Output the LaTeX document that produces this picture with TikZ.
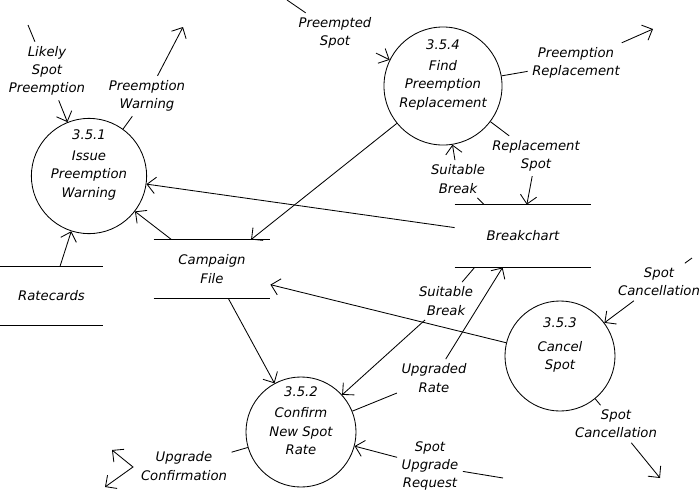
\documentclass[tikz,border=0pt]{standalone}
\usepackage{fontspec}
\setmainfont{DejaVu Sans}
\usetikzlibrary{arrows.meta}

\begin{document}
\begin{tikzpicture}[
  x=0.025cm, y=-0.025cm, font=\itshape\fontsize{9.4}{13}\selectfont,
  > = {Straight Barb[length=2.1mm,width=4.1mm]}, line width=0.6pt,
  proc/.style = {draw,circle,inner sep=0pt,minimum size=2.8cm},
  ptext/.style = {align=center,yshift=8pt},
  store/.style = {inner sep=0pt,align=center},
  flow/.style = {align=center,inner sep=3pt}
  ]
  \useasboundingbox (0,0) rectangle (700,495);
  % processes
  \node[proc,minimum size=2.88cm,label={[ptext]center:{3.5.1\\[2pt]Issue\\Preemption\\Warning}}] (@351) at (89,176) {};
  \node[proc,minimum size=2.75cm,label={[ptext]center:{3.5.2\\[2pt]Confirm\\New Spot\\Rate}}] (@352) at (301,432) {};
  \node[proc,minimum size=2.75cm,label={[ptext]center:{3.5.3\\[4pt]Cancel\\Spot}}] (@353) at (560,356) {};
  \node[proc,minimum size=2.95cm,label={[ptext]center:{3.5.4\\[2pt]Find\\Preemption\\Replacement}}] (@354) at (443,86) {};
  % data stores
  \node[store,minimum width=2.575cm,minimum height=1.45cm] (rate) at (51.5,296) {Ratecards};
  \node[store,minimum width=2.9cm,minimum height=1.45cm] (camp) at (212,269) {Campaign\\File};
  \node[store,minimum width=3.4cm,minimum height=1.55cm] (brk) at (523,236) {Breakchart};
  \foreach \s in {rate,camp,brk}
    \draw (\s.north west) -- (\s.north east) (\s.south west) -- (\s.south east);
  % flow labels
  \node[flow] (lsp) at (47,71) {Likely\\Spot\\Preemption};
  \node[flow] (pw) at (147,96) {Preemption\\Warning};
  \node[flow] (ps) at (335,33) {Preempted\\Spot};
  \node[flow] (pr) at (576,63) {Preemption\\Replacement};
  \node[flow] (sb1) at (458,179) {Suitable\\Break};
  \node[flow] (rs) at (536,156) {Replacement\\Spot};
  \node[flow] (sb2) at (446,301) {Suitable\\Break};
  \node[flow] (ur) at (434,378) {Upgraded\\Rate};
  \node[flow] (sc1) at (659,282) {Spot\\Cancellation};
  \node[flow] (sc2) at (616,424) {Spot\\Cancellation};
  \node[flow] (sur) at (430,466) {Spot\\Upgrade\\Request};
  \node[flow] (uc) at (184,466) {Upgrade\\Confirmation};
  % free ends
  \coordinate (lsp0) at (28,25);
  \coordinate (pw1) at (183,27);
  \coordinate (ps0) at (287,0);
  \coordinate (pr1) at (653,29);
  \coordinate (sc0) at (692,258);
  \coordinate (sc3) at (660,478);
  \coordinate (sur0) at (503,478);
  \coordinate (uc1) at (112,450);
  \coordinate (ucv) at (133,467);
  \coordinate (uc3) at (105,487);
  % flows
  \draw (lsp0) -- (lsp); \draw[->] (lsp) -- (@351);
  \draw (@351) -- (pw); \draw[->] (pw) -- (pw1);
  \draw (ps0) -- (ps); \draw[->] (ps) -- (@354);
  \draw (@354) -- (pr); \draw[->] (pr) -- (pr1);
  \draw (brk.141) -- (sb1); \draw[->] (sb1) -- (@354);
  \draw (@354) -- (rs); \draw[->] (rs) -- (brk.83);
  \draw[->] (@354.219) -- (camp.37);
  \draw[->] (brk.173) -- (@351);
  \draw[->] (camp.144) -- (@351);
  \draw[->] (rate.74) -- (@351);
  \draw[->] (camp.299) -- (@352);
  \draw[->] (@353) -- (camp.-15);
  \draw (brk.213) -- (sb2); \draw[->] (sb2) -- (@352);
  \draw (@352) -- (ur); \draw[->] (ur) -- (brk.237);
  \draw (sc0) -- (sc1); \draw[->] (sc1) -- (@353);
  \draw (@353) -- (sc2); \draw[->] (sc2) -- (sc3);
  \draw (sur0) -- (sur); \draw[->] (sur) -- (@352);
  \draw (@352) -- (uc); \draw[<->] (uc1) -- (ucv) -- (uc3);
\end{tikzpicture}
\end{document}
